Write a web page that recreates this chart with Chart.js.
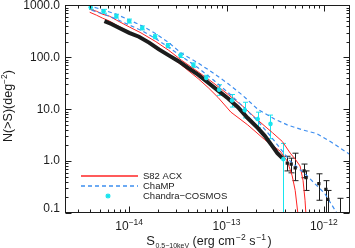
<!DOCTYPE html>
<html><head><meta charset="utf-8">
<script src="https://cdn.jsdelivr.net/npm/chart.js@4.4.0/dist/chart.umd.min.js"></script>
<style>html,body{margin:0;padding:0;background:#fff;overflow:hidden}#wrap{width:355px;height:248px}</style>
</head><body><div id="wrap"><canvas id="c" width="355" height="248"></canvas></div>
<script>
// ---- axis / tick labels ----
const xRange = [2.19e-15, 1.84e-12];
const yRange = [0.1, 1000];
const xTickValues = [1e-14, 1e-13, 1e-12];
const xTickBase = '10';
const xTickExponents = ['\u221214', '\u221213', '\u221212'];
const yTickValues = [0.1, 1, 10, 100, 1000];
const yTickLabels = ['0.1', '1.0', '10.0', '100.0', '1000.0'];
const legendLabels = ['S82 ACX', 'ChaMP', 'Chandra\u2212COSMOS'];

// ---- S82 ACX (red, two bounding curves) ----
const s82UpperFlux = [3.93e-15,4.62e-15,5.32e-15,6.27e-15,7.38e-15,1.0e-14,1.32e-14,1.88e-14,2.55e-14,3.45e-14,5.14e-14,7.29e-14,1.04e-13,1.47e-13,2.09e-13,2.97e-13,3.75e-13,4.52e-13,5.08e-13,5.70e-13,6.12e-13,6.41e-13,6.56e-13];
const s82UpperN    = [841,771,676,620,522,385,296,200,136,87.7,52.1,32.3,19.2,11.4,6.19,3.52,2.38,1.42,1.09,0.805,0.42,0.176,0.09];
const s82LowerFlux = [3.93e-15,4.62e-15,5.32e-15,6.27e-15,7.38e-15,1.0e-14,1.32e-14,1.88e-14,2.55e-14,3.45e-14,5.14e-14,6.49e-14,8.20e-14,1.11e-13,1.65e-13,2.46e-13,3.57e-13,4.21e-13,4.73e-13,5.08e-13,5.44e-13];
const s82LowerN    = [738,647,569,499,420,310,238,161,109,70.6,38.5,26.0,16.8,8.77,4.99,2.60,1.55,1.0,0.521,0.272,0.09];

// ---- ChaMP (blue dashed, two bounding curves) ----
const champUpperFlux = [4.41e-15,5.57e-15,7.38e-15,1.0e-14,1.36e-14,1.88e-14,2.55e-14,3.45e-14,5.14e-14,7.29e-14,1.04e-13,1.47e-13,2.09e-13,3.11e-13,4.21e-13,5.98e-13,8.49e-13,1.21e-12,1.84e-12];
const champUpperN    = [917,805,676,522,402,284,192,119,77.1,49.9,31.0,18.4,10.0,6.47,4.99,4.02,3.38,2.28,1.35];
const champLowerFlux = [4.11e-15,5.57e-15,7.38e-15,1.0e-14,1.36e-14,1.88e-14,2.55e-14,3.45e-14,5.14e-14,7.29e-14,1.04e-13,1.47e-13,2.09e-13,2.97e-13,3.75e-13,4.52e-13,6.72e-13,1.02e-12,1.36e-12];
const champLowerN    = [805,676,545,420,323,228,155,104,62.0,36.8,20.9,11.4,5.94,2.72,1.55,1.0,0.521,0.238,0.1];

// ---- Chandra-COSMOS (cyan asterisks with error bars) ----
const cosmosFlux = [4.02e-15,5.45e-15,7.38e-15,1.0e-14,1.36e-14,1.84e-14,2.49e-14,3.37e-14,4.57e-14,6.19e-14,8.39e-14,1.14e-13,1.54e-13,2.09e-13,2.83e-13,3.84e-13];
const cosmosN    = [917,771,620,499,368,249,168,109,70.6,40.2,23.8,14.8,9.57,6.47,5.21,1.09];
const cosmosHi   = [1000,840,676,545,402,272,184,120,78,45,29.6,19.2,13.6,8.77,7.7,2.19];
const cosmosLo   = [840,706,570,458,338,228,153,99,64,35,18.5,11,6.8,4.4,2.7,0.01];

// ---- this work (black): dense band + bright-end points ----
const bandFlux = [5.57e-15,6.56e-15,7.91e-15,1.0e-14,1.26e-14,1.60e-14,2.02e-14,2.55e-14,3.22e-14,4.06e-14,5.14e-14,6.49e-14,8.20e-14,1.04e-13,1.31e-13,1.65e-13,2.09e-13,2.46e-13,2.97e-13,3.33e-13,3.75e-13];
const bandN    = [499,438,368,296,249,192,142,109,84.1,62.0,45.7,32.3,22.8,16.1,10.9,6.76,4.38,3.10,1.92,1.42,1.14];
const ptFlux = [4.21e-13,4.62e-13,5.08e-13,6.27e-13,6.56e-13,8.89e-13,1.05e-12,1.10e-12,1.45e-12];
const ptN    = [0.917,0.877,0.738,0.647,0.478,0.368,0.284,0.184,0.07];
const ptHi   = [1.24,1.14,1.42,0.877,0.647,0.569,0.42,0.272,0.192];
const ptLo   = [0.647,0.594,0.42,0.478,0.272,0.176,0.09,0.09,0.05];

const RED = '#ff2424', BLUE = '#3d8ef0', CYAN = '#18e4ee', INK = '#1c1c1c';
const FONT = '"Liberation Sans", Arial, Helvetica, sans-serif';

function pts(xs, ys){ return xs.map((x,i)=>({x:x, y:ys[i]})); }

function drawErr(ctx, chart, xs, lo, hi, color, cap, lw){
  const sx = chart.scales.x, sy = chart.scales.y;
  ctx.save();
  ctx.strokeStyle = color; ctx.lineWidth = lw;
  for (let i=0;i<xs.length;i++){
    const px = Math.round(sx.getPixelForValue(xs[i])) + 0.5;
    const y1 = sy.getPixelForValue(hi[i]);
    const y2 = sy.getPixelForValue(lo[i]);
    ctx.beginPath();
    ctx.moveTo(px, y1); ctx.lineTo(px, y2);
    ctx.moveTo(px-cap, y1); ctx.lineTo(px+cap, y1);
    ctx.moveTo(px-cap, y2); ctx.lineTo(px+cap, y2);
    ctx.stroke();
  }
  ctx.restore();
}

function drawScript(ctx, parts, x, y){
  let cx = x;
  for (const p of parts){
    ctx.font = p[1] + 'px ' + FONT;
    ctx.fillText(p[0], cx, y + p[2]);
    cx += ctx.measureText(p[0]).width + (p[3]||0);
  }
  return cx - x;
}
function measureScript(ctx, parts){
  let w = 0;
  for (const p of parts){ ctx.font = p[1] + 'px ' + FONT; w += ctx.measureText(p[0]).width + (p[3]||0); }
  return w;
}

const decor = {
  id: 'decor',
  beforeDatasetsDraw(chart){
    const ctx = chart.ctx, a = chart.chartArea;
    ctx.save();
    ctx.beginPath(); ctx.rect(a.left, a.top, a.right-a.left, a.bottom-a.top); ctx.clip();
    drawErr(ctx, chart, cosmosFlux, cosmosLo, cosmosHi, CYAN, 2.5, 1);
    drawErr(ctx, chart, ptFlux, ptLo, ptHi, INK, 3, 1);
    ctx.restore();
  },
  afterDraw(chart){
    const ctx = chart.ctx, a = chart.chartArea, sx = chart.scales.x, sy = chart.scales.y;
    const L = Math.round(a.left)+0.5, R = Math.round(a.right)-0.5, T = Math.round(a.top)+0.5, B = Math.round(a.bottom)-0.5;
    ctx.save();
    ctx.strokeStyle = INK; ctx.lineWidth = 1;
    ctx.strokeRect(L, T, R-L, B-T);
    ctx.beginPath();
    for (let d = Math.floor(Math.log10(xRange[0])); d <= Math.ceil(Math.log10(xRange[1])); d++){
      for (let m=1;m<=9;m++){
        const v = m*Math.pow(10,d);
        if (v < xRange[0] || v > xRange[1]) continue;
        const px = Math.round(sx.getPixelForValue(v))+0.5, len = m===1?6:3;
        ctx.moveTo(px, B); ctx.lineTo(px, B-len);
        ctx.moveTo(px, T); ctx.lineTo(px, T+len);
      }
    }
    for (let d = Math.floor(Math.log10(yRange[0])); d <= Math.ceil(Math.log10(yRange[1])); d++){
      for (let m=1;m<=9;m++){
        const v = m*Math.pow(10,d);
        if (v < yRange[0]*0.999 || v > yRange[1]*1.001) continue;
        const py = Math.round(sy.getPixelForValue(v))+0.5, len = m===1?6:3;
        ctx.moveTo(L, py); ctx.lineTo(L+len, py);
        ctx.moveTo(R, py); ctx.lineTo(R-len, py);
      }
    }
    ctx.stroke();

    ctx.fillStyle = INK;
    ctx.font = '12px ' + FONT; ctx.textAlign = 'right'; ctx.textBaseline = 'middle';
    yTickValues.forEach((v,i)=>{
      let py = sy.getPixelForValue(v);
      py = Math.min(Math.max(py, 4.5), a.bottom - 4.5);
      ctx.fillText(yTickLabels[i], a.left - 5, py);
    });
    ctx.textAlign = 'left'; ctx.textBaseline = 'alphabetic';
    xTickValues.forEach((v,i)=>{
      const px = sx.getPixelForValue(v);
      const parts = [[xTickBase,12,0],[xTickExponents[i],8.5,-4.5]];
      const w = measureScript(ctx, parts);
      drawScript(ctx, parts, px - w/2, 229.5);
    });
    const xt = [['S',13,0,0.5],['0.5\u221210keV',7,2.5,3.5],['(erg cm',12.5,0,1],['\u22122',8.5,-5,3.5],['s',12.5,0,1],['\u22121',8.5,-5,1.5],[')',12.5,0]];
    const xw = measureScript(ctx, xt);
    drawScript(ctx, xt, 209 - xw/2, 245);
    ctx.save();
    ctx.translate(12, 106); ctx.rotate(-Math.PI/2);
    const yt = [['N(>S)(deg',12.5,0],['\u22122',8.5,-5],[')',12.5,0]];
    const yw = measureScript(ctx, yt);
    drawScript(ctx, yt, -yw/2, 0);
    ctx.restore();

    ctx.lineWidth = 1.5;
    ctx.strokeStyle = RED; ctx.beginPath(); ctx.moveTo(81,176); ctx.lineTo(138,176); ctx.stroke();
    ctx.strokeStyle = BLUE; ctx.setLineDash([4,3]); ctx.beginPath(); ctx.moveTo(81,186); ctx.lineTo(138,186); ctx.stroke();
    ctx.setLineDash([]);
    ctx.strokeStyle = CYAN; ctx.lineWidth = 1.3; ctx.beginPath();
    const cx0 = 108, cy0 = 196, r = 2.5;
    ctx.moveTo(cx0-r,cy0); ctx.lineTo(cx0+r,cy0); ctx.moveTo(cx0,cy0-r); ctx.lineTo(cx0,cy0+r);
    ctx.moveTo(cx0-r*0.75,cy0-r*0.75); ctx.lineTo(cx0+r*0.75,cy0+r*0.75);
    ctx.moveTo(cx0-r*0.75,cy0+r*0.75); ctx.lineTo(cx0+r*0.75,cy0-r*0.75);
    ctx.stroke();
    ctx.fillStyle = INK; ctx.font = '9.5px ' + FONT; ctx.textAlign = 'left'; ctx.textBaseline = 'middle';
    ctx.fillText(legendLabels[0], 143, 176);
    ctx.fillText(legendLabels[1], 143, 186);
    ctx.fillText(legendLabels[2], 143, 196);
    ctx.restore();
  }
};

new Chart(document.getElementById('c'), {
  type: 'scatter',
  data: { datasets: [
    { label: 'this work', data: pts(ptFlux, ptN), pointStyle: 'rect', pointRadius: 2.3, backgroundColor: INK, borderColor: INK, borderWidth: 0, order: 0 },
    { label: legendLabels[2], data: pts(cosmosFlux, cosmosN), pointStyle: 'star', pointRadius: 2.3, borderColor: CYAN, backgroundColor: CYAN, borderWidth: 1.4, order: 1 },
    { label: 'band', data: pts(bandFlux, bandN), showLine: true, borderColor: INK, borderWidth: 4, pointRadius: 0, order: 2 },
    { label: legendLabels[1] + ' upper', data: pts(champUpperFlux, champUpperN), showLine: true, borderColor: BLUE, borderWidth: 1.2, borderDash: [4,3], pointRadius: 0, order: 3 },
    { label: legendLabels[1] + ' lower', data: pts(champLowerFlux, champLowerN), showLine: true, borderColor: BLUE, borderWidth: 1.2, borderDash: [4,3], pointRadius: 0, order: 3 },
    { label: legendLabels[0] + ' upper', data: pts(s82UpperFlux, s82UpperN), showLine: true, borderColor: RED, borderWidth: 1, pointRadius: 0, order: 4 },
    { label: legendLabels[0] + ' lower', data: pts(s82LowerFlux, s82LowerN), showLine: true, borderColor: RED, borderWidth: 1, pointRadius: 0, order: 4 }
  ]},
  options: {
    responsive: false, animation: false, devicePixelRatio: 1,
    layout: { padding: { left: 65, right: 2, top: 1, bottom: 35 } },
    plugins: { legend: { display: false }, tooltip: { enabled: false } },
    scales: {
      x: { type: 'logarithmic', min: xRange[0], max: xRange[1], display: false },
      y: { type: 'logarithmic', min: yRange[0], max: yRange[1], display: false }
    }
  },
  plugins: [decor]
});
</script></body></html>
